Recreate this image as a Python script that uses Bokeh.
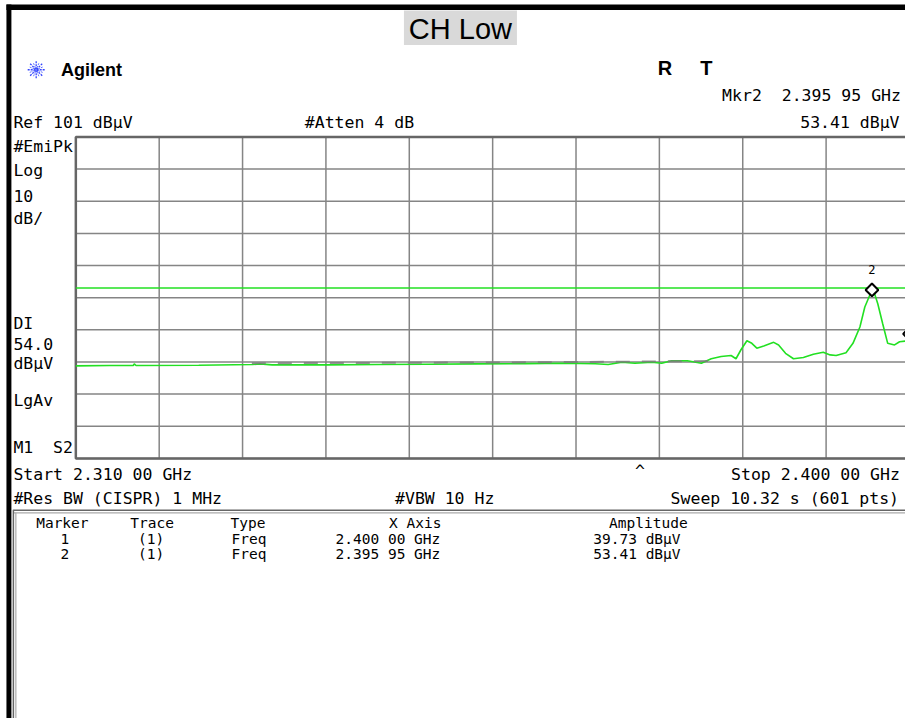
from bokeh.plotting import figure
from bokeh.models import Range1d
from bokeh.core.properties import value
from bokeh.embed import file_html
from bokeh.resources import INLINE

# ---------------- data ----------------
freq_ghz = [2.31000, 2.31364, 2.31620, 2.31631, 2.31650, 2.32327, 2.32905, 2.32990,
            2.33119, 2.33718, 2.34253, 2.34788, 2.35323, 2.35859, 2.36287, 2.36608,
            2.36747, 2.36896, 2.37036, 2.37218, 2.37325, 2.37432, 2.37603, 2.37753,
            2.37860, 2.37967, 2.38074, 2.38127, 2.38181, 2.38245, 2.38298, 2.38352,
            2.38427, 2.38534, 2.38587, 2.38662, 2.38748, 2.38855, 2.38962, 2.39069,
            2.39144, 2.39208, 2.39315, 2.39390, 2.39465, 2.39518, 2.39595, 2.39626,
            2.39658, 2.39711, 2.39765, 2.39839, 2.39893, 2.39957, 2.40000]
level_dbuv = [29.8, 29.9, 29.9, 30.4, 29.9, 30.0, 30.2, 30.4,
              30.1, 30.1, 30.2, 30.3, 30.4, 30.5, 30.6, 30.45,
              30.2, 30.9, 30.6, 30.9, 30.6, 31.4, 31.4, 30.6,
              32.0, 32.7, 33.0, 32.0, 34.8, 37.6, 36.8, 35.3,
              36.0, 37.1, 36.3, 33.7, 32.0, 32.4, 33.4, 34.0,
              33.2, 33.0, 33.9, 36.8, 41.9, 48.1, 53.41, 52.0,
              49.1, 42.9, 36.8, 36.3, 37.3, 37.5, 39.73]

shadow_freq_ghz = [2.3290, 2.3400, 2.3500, 2.3600, 2.3700, 2.3790]
shadow_level_dbuv = [30.6, 30.7, 30.8, 30.9, 31.1, 31.3]

freq_ticks = [2.310, 2.319, 2.328, 2.337, 2.346, 2.355, 2.364, 2.373, 2.382, 2.391, 2.400]
level_ticks = [1, 11, 21, 31, 41, 51, 61, 71, 81, 91, 101]
display_line_dbuv = 54.0

marker_ids = ["1", "2"]
marker_freq_ghz = [2.40000, 2.39595]
marker_freq_text = ["2.400 00 GHz", "2.395 95 GHz"]
marker_amp_dbuv = [39.73, 53.41]

# ---------------- geometry (reference pixels) ----------------
W, H = 905, 718            # canvas (fits the window with its 8px margin)
RW, RH = 913, 726          # reference picture size; the layout is mapped onto the canvas
GX0, GX1 = 76, 917
GY0, GY1 = 138, 463
F0, F1 = freq_ticks[0], freq_ticks[-1]
L_BOT, L_TOP = level_ticks[0], level_ticks[-1]
FPP = (F1 - F0) / (GX1 - GX0)
LPP = (L_TOP - L_BOT) / (GY1 - GY0)


def fx(px):
    return F0 + (px - GX0) * FPP


def fy(py):
    return L_TOP - (py - GY0) * LPP


p = figure(width=W, height=H, output_backend="svg", toolbar_location=None,
           x_range=Range1d(fx(0), fx(RW)), y_range=Range1d(fy(RH), fy(0)),
           x_axis_location=None, y_axis_location=None, min_border=0,
           outline_line_color=None, background_fill_color="white",
           border_fill_color="white")
p.grid.visible = False

MONO = value("DejaVu Sans Mono")
SANS = value("Liberation Sans")
NB = "\u00a0"


def put(txt, px, py, size="16.5px", font=MONO, align="left", style="normal", color="black"):
    p.text(x=[fx(px)], y=[fy(py)], text=[txt], text_font=font, text_font_size=size,
           text_align=align, text_baseline="middle", text_font_style=style,
           text_color=color)


# frame decorations
p.quad(left=fx(6), right=fx(RW), top=fy(4), bottom=fy(9.5), fill_color="black", line_color=None)
p.quad(left=fx(6), right=fx(11), top=fy(4), bottom=fy(RH), fill_color="black", line_color=None)
p.quad(left=fx(407), right=fx(521), top=fy(10), bottom=fy(45), fill_color="#d9d9d9", line_color=None)
put("CH Low", 464, 28.5, size="29px", font=SANS, align="center")

# Agilent logo
p.scatter([fx(36)], [fy(70)], marker="asterisk", size=17, line_color="#3344ff",
          line_width=1.3, line_dash="2 1")
p.scatter([fx(36)], [fy(70)], marker="asterisk", size=14, angle=22.5, angle_units="deg",
          line_color="#6677ff", line_width=1.0, line_dash="2 1")
put("Agilent", 61, 70, size="18px", font=SANS, style="bold")
put("R", 663, 68, size="20px", font=SANS, style="bold")
put("T", 706, 68, size="20px", font=SANS, style="bold")

# header texts
put("Mkr2" + NB + NB + marker_freq_text[1], 728, 96)
put(f"{marker_amp_dbuv[1]:.2f} dBµV", 907, 123, align="right")
put(f"Ref {L_TOP} dBµV", 13, 123)
put("#Atten 4 dB", 307, 123)

# left column
put("#EmiPk", 13, 148)
put("Log", 13, 172)
put(str(level_ticks[1] - level_ticks[0]), 13, 198)
put("dB/", 13, 220)
put("DI", 13, 327)
put(f"{display_line_dbuv:.1f}", 13, 347)
put("dBµV", 13, 367)
put("LgAv", 13, 404)
put("M1" + NB + NB + "S2", 13, 452)

# grid
n = len(freq_ticks)
p.segment(x0=freq_ticks, y0=[L_BOT] * n, x1=freq_ticks, y1=[L_TOP] * n,
          line_color="#858585", line_width=1.5)
m = len(level_ticks)
p.segment(x0=[F0] * m, y0=level_ticks, x1=[F1] * m, y1=level_ticks,
          line_color="#858585", line_width=1.5)
p.quad(left=F0, right=F1, bottom=L_BOT, top=L_TOP, fill_color=None,
       line_color="#666666", line_width=2.5)

# display line and traces
p.line([F0, F1], [display_line_dbuv, display_line_dbuv], line_color="#22e022", line_width=1.6)
p.line(freq_ghz, level_dbuv, line_color="#22e022", line_width=1.6)
p.line(shadow_freq_ghz, shadow_level_dbuv, line_color="#7a7a7a", line_width=2,
       line_dash="14 12", line_alpha=0.8)

# markers
p.scatter(marker_freq_ghz, marker_amp_dbuv, marker="square", angle=45, angle_units="deg",
          size=9, fill_color="white", line_color="black", line_width=2)
x_hi = fx(RW - 6)
vis = [i for i, f in enumerate(marker_freq_ghz) if f <= x_hi]
p.text([marker_freq_ghz[i] for i in vis], [marker_amp_dbuv[i] for i in vis],
       text=[marker_ids[i] for i in vis], y_offset=-20,
       text_font=MONO, text_font_size="12px", text_align="center",
       text_baseline="middle", text_color="black")

# bottom annotations
put(f"Start {F0:.3f} 00 GHz", 13, 479)
put(f"Stop {F1:.3f} 00 GHz", 737, 479)
put("^", 640, 475)
put("#Res BW (CISPR) 1 MHz", 13, 504)
put("#VBW 10 Hz", 398, 504)
put("Sweep 10.32 s (601 pts)", 676, 504)

# table border
p.segment(x0=[fx(13)], y0=[fy(515.5)], x1=[fx(RW)], y1=[fy(515.5)], line_color="#666666", line_width=1.5)
p.segment(x0=[fx(13)], y0=[fy(518)], x1=[fx(RW)], y1=[fy(518)], line_color="#aaaaaa", line_width=1.2)
p.segment(x0=[fx(13)], y0=[fy(515)], x1=[fx(13)], y1=[fy(RH)], line_color="#666666", line_width=1.5)
p.segment(x0=[fx(15.5)], y0=[fy(518)], x1=[fx(15.5)], y1=[fy(RH)], line_color="#aaaaaa", line_width=1.2)

# marker table
TS = "14.5px"
put("Marker", 36, 528, size=TS)
put("Trace", 131, 528, size=TS)
put("Type", 232, 528, size=TS)
put("X Axis", 392, 528, size=TS)
put("Amplitude", 614, 528, size=TS)
for i, mid in enumerate(marker_ids):
    yy = 544 + 16 * i
    put(mid, 65, yy, size=TS, align="center")
    put("(1)", 152, yy, size=TS, align="center")
    put("Freq", 233, yy, size=TS)
    put(marker_freq_text[i], 338, yy, size=TS)
    put(f"{marker_amp_dbuv[i]:.2f} dBµV", 598, yy, size=TS)

open("out.html", "w").write(file_html(p, INLINE))
